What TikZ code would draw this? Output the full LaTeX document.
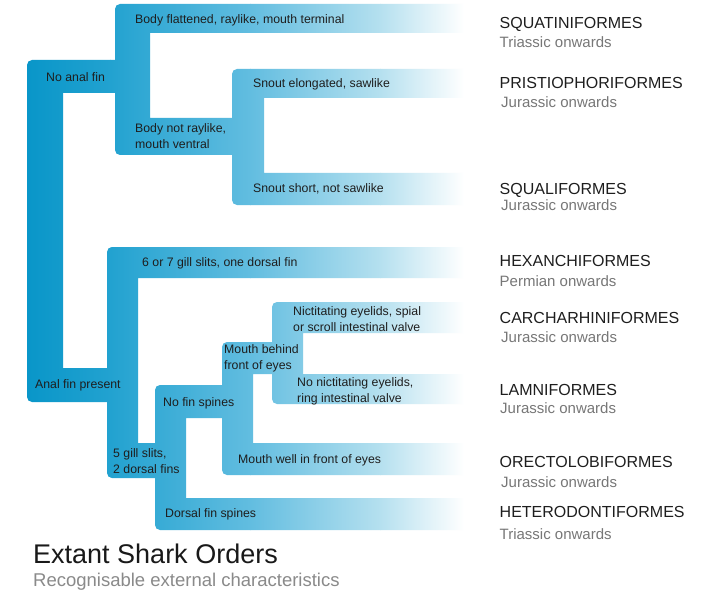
\documentclass[tikz,border=0pt]{standalone}
\usepackage{fontspec}
\setmainfont{Liberation Sans}
\definecolor{bandA}{HTML}{0795C8}
\definecolor{bandB}{HTML}{22A2D0}
\definecolor{bandC}{HTML}{62BDE0}
\definecolor{bandD}{HTML}{B5E0EF}
\definecolor{txtdark}{HTML}{1E1E1E}
\definecolor{txtgray}{HTML}{777777}
\definecolor{subgray}{HTML}{8A8A8A}
\begin{document}
\begin{tikzpicture}[x=1pt,y=-1pt,
  lab/.style={anchor=base west,inner sep=0pt,text=txtdark,font=\fontsize{12.3}{16}\selectfont},
  mlab/.style={anchor=north west,inner sep=0pt,text=txtdark,align=left,font=\fontsize{12.3}{16}\selectfont},
  ord/.style={anchor=base west,inner sep=0pt,text=txtdark,font=\fontsize{16}{19}\selectfont},
  era/.style={anchor=base west,inner sep=0pt,text=txtgray,font=\fontsize{15}{18}\selectfont}]
\useasboundingbox[fill=white] (0,0) rectangle (707,599);
% tree bands
\begin{scope}
\clip[rounded corners=5pt]
  % root
  (27,60) rectangle (63,402)
  (27,60) rectangle (120,93)
  (27,368) rectangle (112,402)
  % no anal fin clade
  (115,4) rectangle (150,155)
  (115,4) rectangle (470,33)
  (115,118) rectangle (237,155)
  % snout clade
  (232,69) rectangle (264,205)
  (232,69) rectangle (470,98)
  (232,173) rectangle (470,205)
  % anal fin present clade
  (107,247) rectangle (138,478)
  (107,247) rectangle (470,278)
  (107,443) rectangle (160,478)
  % 5 gill slits clade
  (155,385) rectangle (186,530)
  (155,385) rectangle (227,418)
  (155,498) rectangle (470,530)
  % no fin spines clade
  (222,342) rectangle (253,475)
  (222,342) rectangle (277,374)
  (222,443) rectangle (470,475)
  % mouth behind front of eyes clade
  (272,302) rectangle (303,404)
  (272,302) rectangle (470,333)
  (272,374) rectangle (470,404);
\shade[left color=bandA,right color=bandB] (20,0) rectangle (110.5,540);
\shade[left color=bandB,right color=bandC] (110,0) rectangle (250.5,540);
\shade[left color=bandC,right color=bandD] (250,0) rectangle (380.5,540);
\shade[left color=bandD,right color=white] (380,0) rectangle (464,540);
\fill[white] (463.5,0) rectangle (475,540);
\end{scope}
% branch labels
\node[lab] (t1) at (135,23.3) {Body flattened, raylike, mouth terminal};
\node[lab] (t2) at (46,82) {No anal fin};
\node[lab] (t3) at (253,88) {Snout elongated, sawlike};
\node[mlab] (t4) at (135,123.3) {Body not raylike,\\mouth ventral};
\node[lab] (t5) at (253,192.5) {Snout short, not sawlike};
\node[lab] (t6) at (142,266) {6 or 7 gill slits, one dorsal fin};
\node[mlab] (t7) at (293,306.3) {Nictitating eyelids, spial\\or scroll intestinal valve};
\node[mlab] (t8) at (224,344.3) {Mouth behind\\front of eyes};
\node[mlab] (t9) at (297,377.3) {No nictitating eyelids,\\ring intestinal valve};
\node[lab] (t10) at (35,388) {Anal fin present};
\node[lab] (t11) at (163,406) {No fin spines};
\node[mlab] (t12) at (113,448.3) {5 gill slits,\\2 dorsal fins};
\node[lab] (t13) at (238,463) {Mouth well in front of eyes};
\node[lab] (t14) at (165,517) {Dorsal fin spines};
% orders
\node[ord] (o1) at (499.5,29) {SQUATINIFORMES};
\node[era] (e1) at (499.5,48) {Triassic onwards};
\node[ord] (o2) at (499.5,89) {PRISTIOPHORIFORMES};
\node[era] (e2) at (501,107.5) {Jurassic onwards};
\node[ord] (o3) at (499.5,194) {SQUALIFORMES};
\node[era] (e3) at (501,211) {Jurassic onwards};
\node[ord] (o4) at (499.5,266.5) {HEXANCHIFORMES};
\node[era] (e4) at (499.5,286) {Permian onwards};
\node[ord] (o5) at (499.5,323) {CARCHARHINIFORMES};
\node[era] (e5) at (501,342.5) {Jurassic onwards};
\node[ord] (o6) at (499.5,395) {LAMNIFORMES};
\node[era] (e6) at (500,413.5) {Jurassic onwards};
\node[ord] (o7) at (499.5,467.5) {ORECTOLOBIFORMES};
\node[era] (e7) at (501,487.5) {Jurassic onwards};
\node[ord] (o8) at (499.5,517.5) {HETERODONTIFORMES};
\node[era] (e8) at (499.5,539) {Triassic onwards};
% title
\node[anchor=base west,inner sep=0pt,text=black!90,font=\fontsize{27}{31}\selectfont] (title) at (33,563.3) {Extant Shark Orders};
\node[anchor=base west,inner sep=0pt,text=subgray,font=\fontsize{18.5}{22}\selectfont] (subtitle) at (33,586.7) {Recognisable external characteristics};
\end{tikzpicture}
\end{document}
